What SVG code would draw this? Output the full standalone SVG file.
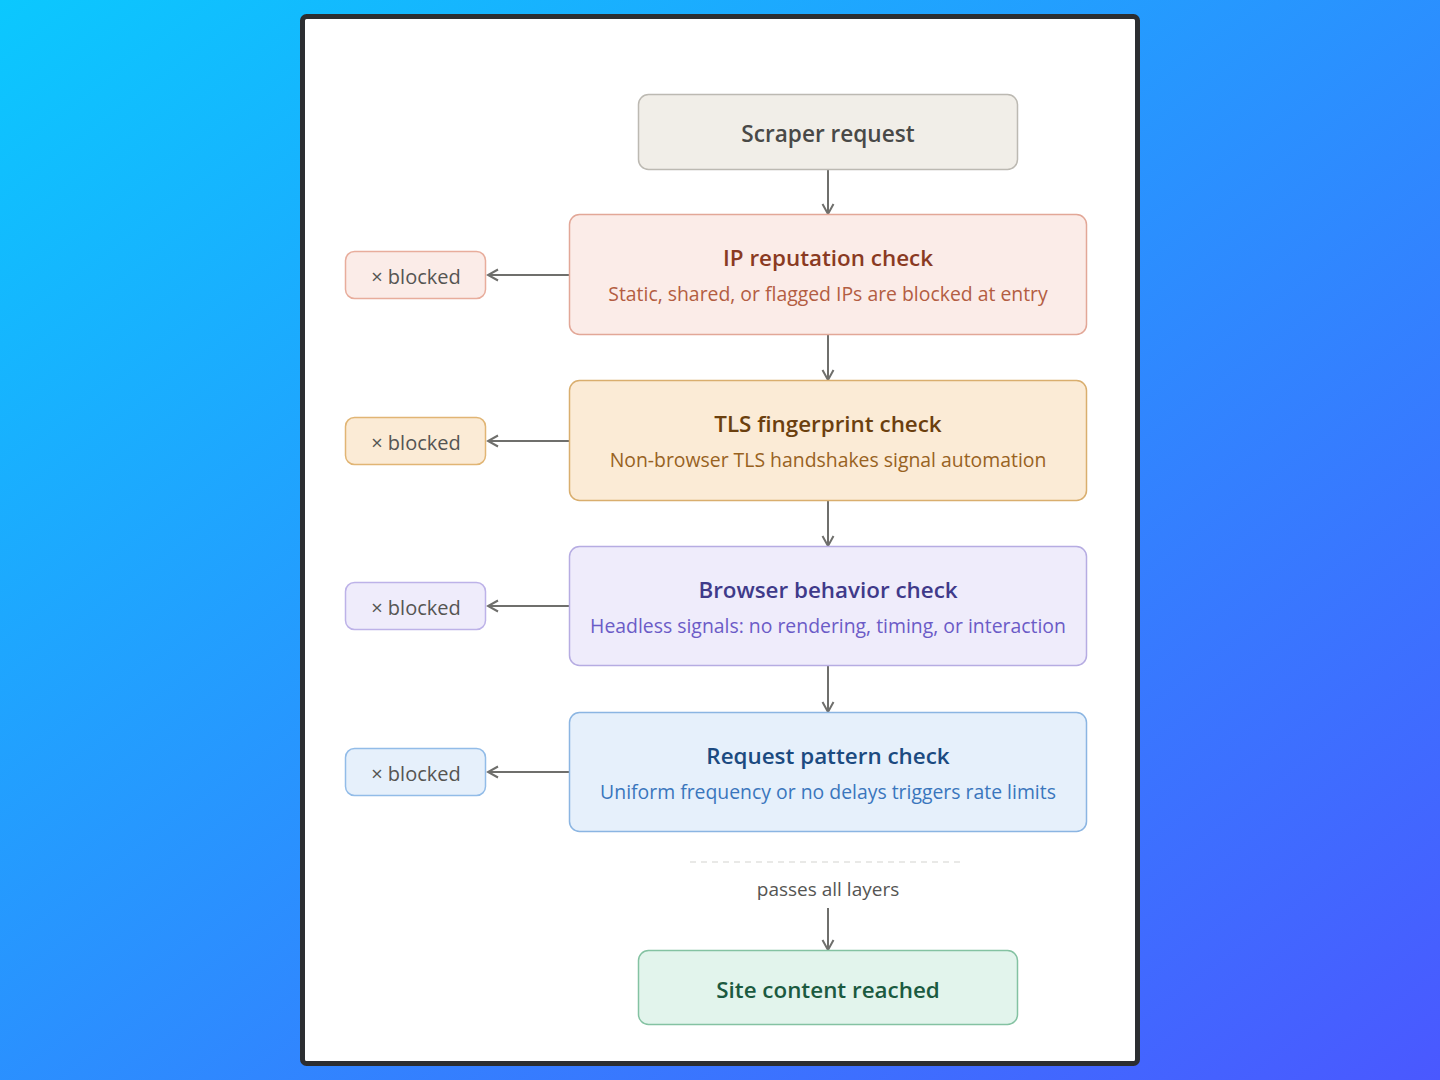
<svg xmlns="http://www.w3.org/2000/svg" width="1440" height="1080" viewBox="0 0 1440 1080">
<defs>
<linearGradient id="bg" x1="0" y1="0" x2="1" y2="1">
<stop offset="0" stop-color="#0bc8fe"/>
<stop offset="1" stop-color="#4a58ff"/>
</linearGradient>
<marker id="ah" viewBox="0 0 14 14" refX="12" refY="7" markerWidth="14" markerHeight="14" markerUnits="userSpaceOnUse" orient="auto">
<path d="M2 1.5 L12 7 L2 12.5" fill="none" stroke="#6f6f6c" stroke-width="2"/>
</marker>
<style>
text{font-family:"Open Sans","Noto Sans","Liberation Sans",sans-serif;text-anchor:middle;dominant-baseline:central}
.t{font-size:22.4px;font-weight:600}
.s{font-size:19.4px}
.b{font-size:20px;fill:#555553}
.p{font-size:19px;fill:#555553}
.e{stroke:#6f6f6c;stroke-width:2;fill:none;marker-end:url(#ah)}
</style>
</defs>
<rect width="1440" height="1080" fill="url(#bg)"/>
<rect x="302.5" y="16.5" width="835" height="1047" rx="4" fill="#fff" stroke="#2c2e31" stroke-width="5"/>

<g id="connectors">
<line class="e" x1="828" y1="169" x2="828" y2="214"/>
<line class="e" x1="828" y1="335" x2="828" y2="380"/>
<line class="e" x1="828" y1="501" x2="828" y2="546"/>
<line class="e" x1="828" y1="666" x2="828" y2="712"/>
<line class="e" x1="828" y1="908" x2="828" y2="950"/>
<line class="e" x1="569" y1="275" x2="488" y2="275"/>
<line class="e" x1="569" y1="441" x2="488" y2="441"/>
<line class="e" x1="569" y1="606" x2="488" y2="606"/>
<line class="e" x1="569" y1="772" x2="488" y2="772"/>
<line x1="690" y1="862" x2="965" y2="862" stroke="#e2e2e0" stroke-width="1.5" stroke-dasharray="6 5"/>
</g>

<g id="scraper">
<rect x="638.5" y="94.5" width="379" height="75" rx="10" fill="#f1eee8" stroke="#bcb9b2" stroke-width="1.5"/>
<text class="t" x="828" y="133" fill="#494947" style="font-size:22.6px">Scraper request</text>
</g>

<g id="ip">
<rect x="569.5" y="214.5" width="517" height="120" rx="10" fill="#fbece8" stroke="#e2a797" stroke-width="1.5"/>
<text class="t" x="828" y="257" fill="#8a3a22">IP reputation check</text>
<text class="s" x="828" y="293" fill="#b35d42">Static, shared, or flagged IPs are blocked at entry</text>
</g>

<g id="tls">
<rect x="569.5" y="380.5" width="517" height="120" rx="10" fill="#fbebd6" stroke="#d9ae6e" stroke-width="1.5"/>
<text class="t" x="828" y="423" fill="#6b3f0e">TLS fingerprint check</text>
<text class="s" x="828" y="459" fill="#98621f">Non-browser TLS handshakes signal automation</text>
</g>

<g id="browser">
<rect x="569.5" y="546.5" width="517" height="119" rx="10" fill="#efecfb" stroke="#b6ace2" stroke-width="1.5"/>
<text class="t" x="828" y="589" fill="#3f3a8a">Browser behavior check</text>
<text class="s" x="828" y="625" fill="#6b5bc7">Headless signals: no rendering, timing, or interaction</text>
</g>

<g id="pattern">
<rect x="569.5" y="712.5" width="517" height="119" rx="10" fill="#e6f0fb" stroke="#8bb5e2" stroke-width="1.5"/>
<text class="t" x="828" y="755" fill="#1b4a80">Request pattern check</text>
<text class="s" x="828" y="791" fill="#3a76bd">Uniform frequency or no delays triggers rate limits</text>
</g>

<g id="blocked1">
<rect x="345.5" y="251.5" width="140" height="47" rx="9" fill="#fbece8" stroke="#e8ad9c" stroke-width="1.5"/>
<text class="b" x="416" y="276">× blocked</text>
</g>
<g id="blocked2">
<rect x="345.5" y="417.5" width="140" height="47" rx="9" fill="#fbebd6" stroke="#e1b574" stroke-width="1.5"/>
<text class="b" x="416" y="442">× blocked</text>
</g>
<g id="blocked3">
<rect x="345.5" y="582.5" width="140" height="47" rx="9" fill="#efecfb" stroke="#bdb2e8" stroke-width="1.5"/>
<text class="b" x="416" y="607">× blocked</text>
</g>
<g id="blocked4">
<rect x="345.5" y="748.5" width="140" height="47" rx="9" fill="#e6f0fb" stroke="#92bce8" stroke-width="1.5"/>
<text class="b" x="416" y="773">× blocked</text>
</g>

<g id="passes">
<text class="p" x="828" y="889">passes all layers</text>
</g>

<g id="site">
<rect x="638.5" y="950.5" width="379" height="74" rx="10" fill="#e2f4ec" stroke="#84c2a2" stroke-width="1.5"/>
<text class="t" x="828" y="989" fill="#1b5a40">Site content reached</text>
</g>
</svg>
